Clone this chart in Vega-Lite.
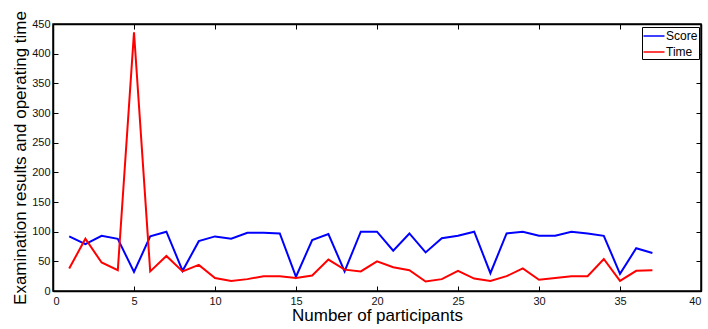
{
  "$schema": "https://vega.github.io/schema/vega-lite/v6.json",
  "width": 648,
  "height": 267,
  "autosize": "none",
  "padding": {"left": 53, "top": 24, "right": 7, "bottom": 38},
  "background": "white",
  "config": {
    "font": "Liberation Sans",
    "view": {"stroke": "black", "strokeWidth": 1.5},
    "axis": {"grid": false, "domainColor": "black", "tickColor": "black", "labelColor": "#111", "titleColor": "black", "labelFont": "Liberation Sans", "titleFont": "Liberation Sans", "labelFontSize": 11, "titleFontSize": 17, "titleFontWeight": "normal", "tickSize": -5, "domainWidth": 1.5}
  },
  "data": {"values": [
    {"p":1,"s":"Score","v":92},{"p":2,"s":"Score","v":79},{"p":3,"s":"Score","v":93},{"p":4,"s":"Score","v":88},{"p":5,"s":"Score","v":32},
    {"p":6,"s":"Score","v":92},{"p":7,"s":"Score","v":100},{"p":8,"s":"Score","v":34},{"p":9,"s":"Score","v":84},{"p":10,"s":"Score","v":92},
    {"p":11,"s":"Score","v":88},{"p":12,"s":"Score","v":98},{"p":13,"s":"Score","v":98},{"p":14,"s":"Score","v":97},{"p":15,"s":"Score","v":24},
    {"p":16,"s":"Score","v":86},{"p":17,"s":"Score","v":96},{"p":18,"s":"Score","v":33},{"p":19,"s":"Score","v":100},{"p":20,"s":"Score","v":100},
    {"p":21,"s":"Score","v":68},{"p":22,"s":"Score","v":97},{"p":23,"s":"Score","v":65},{"p":24,"s":"Score","v":89},{"p":25,"s":"Score","v":93},
    {"p":26,"s":"Score","v":100},{"p":27,"s":"Score","v":30},{"p":28,"s":"Score","v":97},{"p":29,"s":"Score","v":100},{"p":30,"s":"Score","v":93},
    {"p":31,"s":"Score","v":93},{"p":32,"s":"Score","v":100},{"p":33,"s":"Score","v":97},{"p":34,"s":"Score","v":93},{"p":35,"s":"Score","v":29},
    {"p":36,"s":"Score","v":72},{"p":37,"s":"Score","v":64},
    {"p":1,"s":"Time","v":38},{"p":2,"s":"Time","v":88},{"p":3,"s":"Time","v":48},{"p":4,"s":"Time","v":35},{"p":5,"s":"Time","v":436},
    {"p":6,"s":"Time","v":33},{"p":7,"s":"Time","v":59},{"p":8,"s":"Time","v":33},{"p":9,"s":"Time","v":44},{"p":10,"s":"Time","v":22},
    {"p":11,"s":"Time","v":17},{"p":12,"s":"Time","v":20},{"p":13,"s":"Time","v":25},{"p":14,"s":"Time","v":25},{"p":15,"s":"Time","v":22},
    {"p":16,"s":"Time","v":26},{"p":17,"s":"Time","v":53},{"p":18,"s":"Time","v":36},{"p":19,"s":"Time","v":33},{"p":20,"s":"Time","v":50},
    {"p":21,"s":"Time","v":40},{"p":22,"s":"Time","v":35},{"p":23,"s":"Time","v":16},{"p":24,"s":"Time","v":20},{"p":25,"s":"Time","v":34},
    {"p":26,"s":"Time","v":21},{"p":27,"s":"Time","v":17},{"p":28,"s":"Time","v":25},{"p":29,"s":"Time","v":38},{"p":30,"s":"Time","v":19},
    {"p":31,"s":"Time","v":22},{"p":32,"s":"Time","v":25},{"p":33,"s":"Time","v":25},{"p":34,"s":"Time","v":54},{"p":35,"s":"Time","v":17},
    {"p":36,"s":"Time","v":34},{"p":37,"s":"Time","v":35}
  ]},
  "layer": [
    {
      "mark": {"type": "line", "strokeWidth": 2},
      "encoding": {
        "x": {"field": "p", "type": "quantitative", "scale": {"domain": [0, 40], "nice": false}, "axis": {"orient": "bottom", "values": [0,5,10,15,20,25,30,35,40], "title": "Number of participants", "labelPadding": 9, "titlePadding": 1}},
        "y": {"field": "v", "type": "quantitative", "scale": {"domain": [0, 450], "nice": false}, "axis": {"orient": "left", "values": [0,50,100,150,200,250,300,350,400,450], "title": "Examination results and operating time", "labelPadding": 8, "titlePadding": 2}},
        "color": {"field": "s", "type": "nominal", "scale": {"domain": ["Score", "Time"], "range": ["#0000ff", "#ff0000"]},
          "legend": {"title": null, "orient": "none", "legendX": 589, "legendY": 3, "symbolType": "M-1.5,0H1.5", "symbolSize": 196, "symbolStrokeWidth": 1.5, "symbolOffset": 3, "labelFontSize": 12, "labelColor": "black", "strokeColor": "black", "fillColor": "white", "padding": 1, "rowPadding": 2, "labelOffset": 4}}
      }
    },
    {
      "mark": {"type": "point", "opacity": 0},
      "encoding": {
        "x": {"field": "p", "type": "quantitative", "scale": {"domain": [0, 40], "nice": false}, "axis": {"orient": "top", "values": [0,5,10,15,20,25,30,35,40], "labels": false, "title": null}},
        "y": {"field": "v", "type": "quantitative", "scale": {"domain": [0, 450], "nice": false}, "axis": {"orient": "right", "values": [0,50,100,150,200,250,300,350,400,450], "labels": false, "title": null}}
      }
    }
  ],
  "resolve": {"axis": {"x": "independent", "y": "independent"}}
}
